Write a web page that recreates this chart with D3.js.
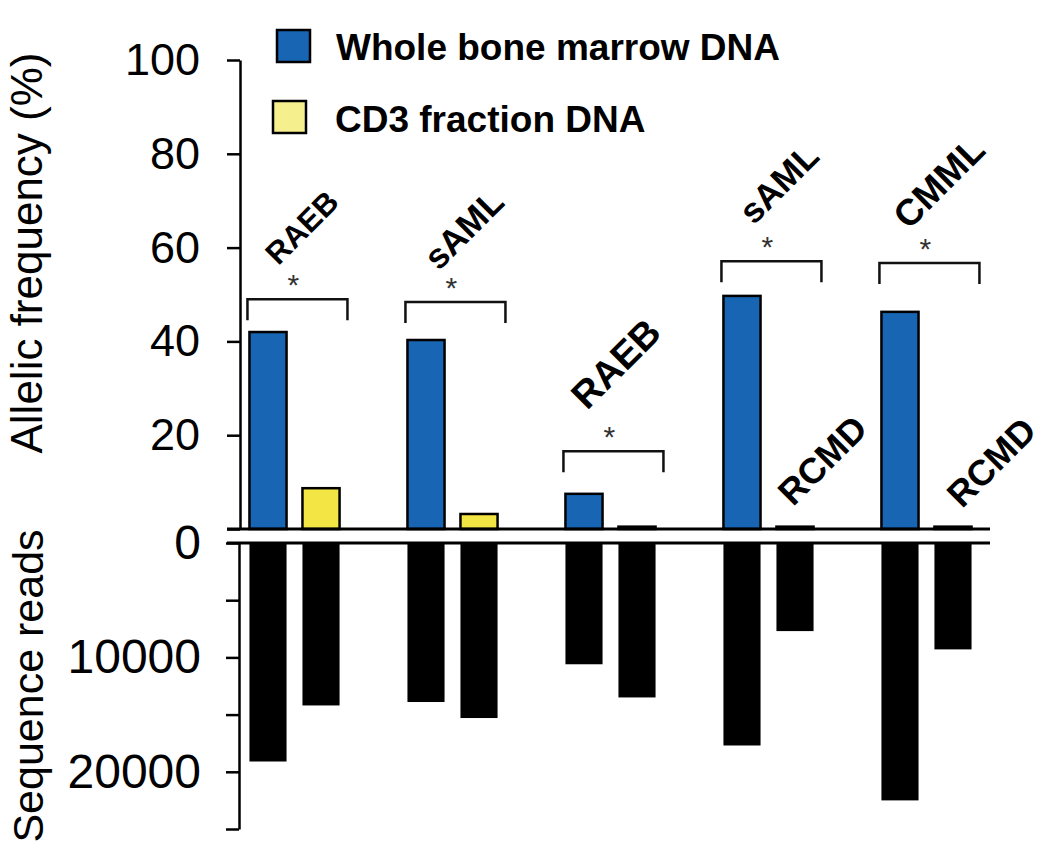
<!DOCTYPE html>
<html>
<head>
<meta charset="utf-8">
<script src="https://cdnjs.cloudflare.com/ajax/libs/d3/7.8.5/d3.min.js"></script>
<style>
body { margin: 0; background: #fff; }
svg { display: block; font-family: "Liberation Sans", Arial, sans-serif; }
.axis path, .axis line { stroke: #000; stroke-width: 2.5; }
.axis text { fill: #000; }
</style>
</head>
<body>
<div id="chart"></div>
<script>
// DATA
var groups = ["1", "2", "3", "4", "5"];
var series = ["Whole bone marrow DNA", "CD3 fraction DNA"];
var allelicWhole = [42.0, 40.3, 7.5, 49.7, 46.3];
var allelicCD3 = [8.7, 3.2, 0.5, 0.5, 0.5];
var readsWhole = [19100, 13900, 10600, 17700, 22500];
var readsCD3 = [14200, 15300, 13500, 7700, 9300];
var wholeLabels = ["RAEB", "sAML", "RAEB", "sAML", "CMML"];
var cd3Labels = ["", "", "", "RCMD", "RCMD"];
var bracketLevel = [49.0, 48.4, 16.6, 57.1, 56.7];
var allelicTicks = [0, 20, 40, 60, 80, 100];
var readTicks = [0, 5000, 10000, 15000, 20000, 25000];
var readTickLabels = ["0", "", "10000", "", "20000", ""];

// layout
var w = 1050, h = 857;
var colors = ["#1765b3", "#f3e544"];
var legendColors = ["#1765b3", "#f6ef8e"];

var svg = d3.select("#chart")
  .append("svg")
  .attr("width", w)
  .attr("height", h);

svg.append("rect").attr("width", w).attr("height", h).attr("fill", "#fff");

// scales
var x = d3.scaleBand()
  .domain(groups)
  .range([241.5, 979.5])
  .paddingInner(0.329)
  .paddingOuter(0);

var xSub = d3.scaleBand()
  .domain([0, 1])
  .range([0, x.bandwidth()])
  .paddingInner(0.3)
  .paddingOuter(0.15);

var yTop = d3.scaleLinear().domain([0, 100]).range([529, 60]);
var yBot = d3.scaleLinear().domain([0, 25000]).range([543, 829]);

// top bars
var topData = [];
groups.forEach(function(g, i){
  topData.push({g: g, s: 0, v: allelicWhole[i]});
  topData.push({g: g, s: 1, v: allelicCD3[i]});
});

svg.append("g")
  .selectAll("rect")
  .data(topData)
  .enter()
  .append("rect")
  .attr("x", function(d){ return x(d.g) + xSub(d.s); })
  .attr("y", function(d){ return yTop(d.v); })
  .attr("width", xSub.bandwidth())
  .attr("height", function(d){ return yTop(0) - yTop(d.v); })
  .attr("fill", function(d){ return colors[d.s]; })
  .attr("stroke", "#000")
  .attr("stroke-width", 2.5);

// bottom bars (sequence reads)
var botData = [];
groups.forEach(function(g, i){
  botData.push({g: g, s: 0, v: readsWhole[i]});
  botData.push({g: g, s: 1, v: readsCD3[i]});
});

svg.append("g")
  .selectAll("rect")
  .data(botData)
  .enter()
  .append("rect")
  .attr("x", function(d){ return x(d.g) + xSub(d.s); })
  .attr("y", yBot(0))
  .attr("width", xSub.bandwidth())
  .attr("height", function(d){ return yBot(d.v) - yBot(0); })
  .attr("fill", "#000");

// baselines
svg.append("line")
  .attr("x1", 227).attr("x2", 990)
  .attr("y1", yTop(0)).attr("y2", yTop(0))
  .attr("stroke", "#000").attr("stroke-width", 3);
svg.append("line")
  .attr("x1", 227).attr("x2", 990)
  .attr("y1", yBot(0)).attr("y2", yBot(0))
  .attr("stroke", "#000").attr("stroke-width", 3);

// axes
var topAxis = svg.append("g")
  .attr("class", "axis")
  .attr("transform", "translate(240,0)")
  .call(d3.axisLeft(yTop)
    .tickValues(allelicTicks)
    .tickSize(13)
    .tickSizeOuter(0)
    .tickPadding(27)
    .tickFormat(function(d){ return d === 0 ? "" : d; }));
topAxis.attr("font-family", null).attr("font-size", null);
topAxis.selectAll("text").style("font-size", "45px");

var botAxis = svg.append("g")
  .attr("class", "axis")
  .attr("transform", "translate(239,0)")
  .call(d3.axisLeft(yBot)
    .tickValues(readTicks)
    .tickSize(13)
    .tickSizeOuter(0)
    .tickPadding(25)
    .tickFormat(function(d, i){ return readTickLabels[i]; }));
botAxis.attr("font-family", null).attr("font-size", null);
botAxis.selectAll("text").style("font-size", "48px");

// axis titles
svg.append("text")
  .attr("transform", "translate(42,253) rotate(-90)")
  .attr("text-anchor", "middle")
  .style("font-size", "44px")
  .text("Allelic frequency (%)");

svg.append("text")
  .attr("transform", "translate(43,686) rotate(-90)")
  .attr("text-anchor", "middle")
  .style("font-size", "43px")
  .text("Sequence reads");

// brackets with asterisks
var bracketW = 100, legLen = 21;
var brackets = svg.append("g");
groups.forEach(function(g, i){
  var x0 = x(g) + xSub(0) - 2;
  var yb = yTop(bracketLevel[i]);
  brackets.append("path")
    .attr("d", "M" + x0 + "," + (yb + legLen) + "V" + yb + "H" + (x0 + bracketW) + "V" + (yb + legLen))
    .attr("fill", "none")
    .attr("stroke", "#111")
    .attr("stroke-width", 2.5);
  brackets.append("text")
    .attr("x", x0 + 46)
    .attr("y", yb - 21 + 17)
    .attr("text-anchor", "middle")
    .attr("fill", "#333")
    .style("font-size", "30px")
    .text("*");
});

// diagnosis labels
var labelSize = [31, 35, 38, 35, 37];
var labelDx = [7, 11, 5, 10, 12];
var labelDy = [72, 73, 88, 78, 81];
groups.forEach(function(g, i){
  var cx = x(g) + x.bandwidth() / 2 + labelDx[i];
  var cy = yTop(bracketLevel[i]) - labelDy[i];
  svg.append("text")
    .attr("transform", "translate(" + cx + "," + cy + ") rotate(-45)")
    .attr("text-anchor", "middle")
    .attr("dy", "0.36em")
    .style("font-size", labelSize[i] + "px")
    .style("font-weight", "bold")
    .text(wholeLabels[i]);
});

var cd3Dx = [0, 0, 0, 27, 38];
var cd3Dy = [0, 0, 0, 69, 67];
groups.forEach(function(g, i){
  if (!cd3Labels[i]) return;
  var cx = x(g) + xSub(1) + xSub.bandwidth() / 2 + cd3Dx[i];
  var cy = yTop(0) - cd3Dy[i];
  svg.append("text")
    .attr("transform", "translate(" + cx + "," + cy + ") rotate(-45)")
    .attr("text-anchor", "middle")
    .attr("dy", "0.36em")
    .style("font-size", "36px")
    .style("font-weight", "bold")
    .text(cd3Labels[i]);
});

// legend
var legend = svg.append("g");
var legendPos = [{x: 277, y: 30, tx: 336, ty: 60}, {x: 273, y: 101, tx: 335, ty: 132}];
series.forEach(function(s, i){
  legend.append("rect")
    .attr("x", legendPos[i].x)
    .attr("y", legendPos[i].y)
    .attr("width", 33)
    .attr("height", 32)
    .attr("fill", legendColors[i])
    .attr("stroke", "#000")
    .attr("stroke-width", 2.5);
  legend.append("text")
    .attr("x", legendPos[i].tx)
    .attr("y", legendPos[i].ty)
    .style("font-size", "37px")
    .style("font-weight", "bold")
    .text(s);
});
</script>
</body>
</html>
